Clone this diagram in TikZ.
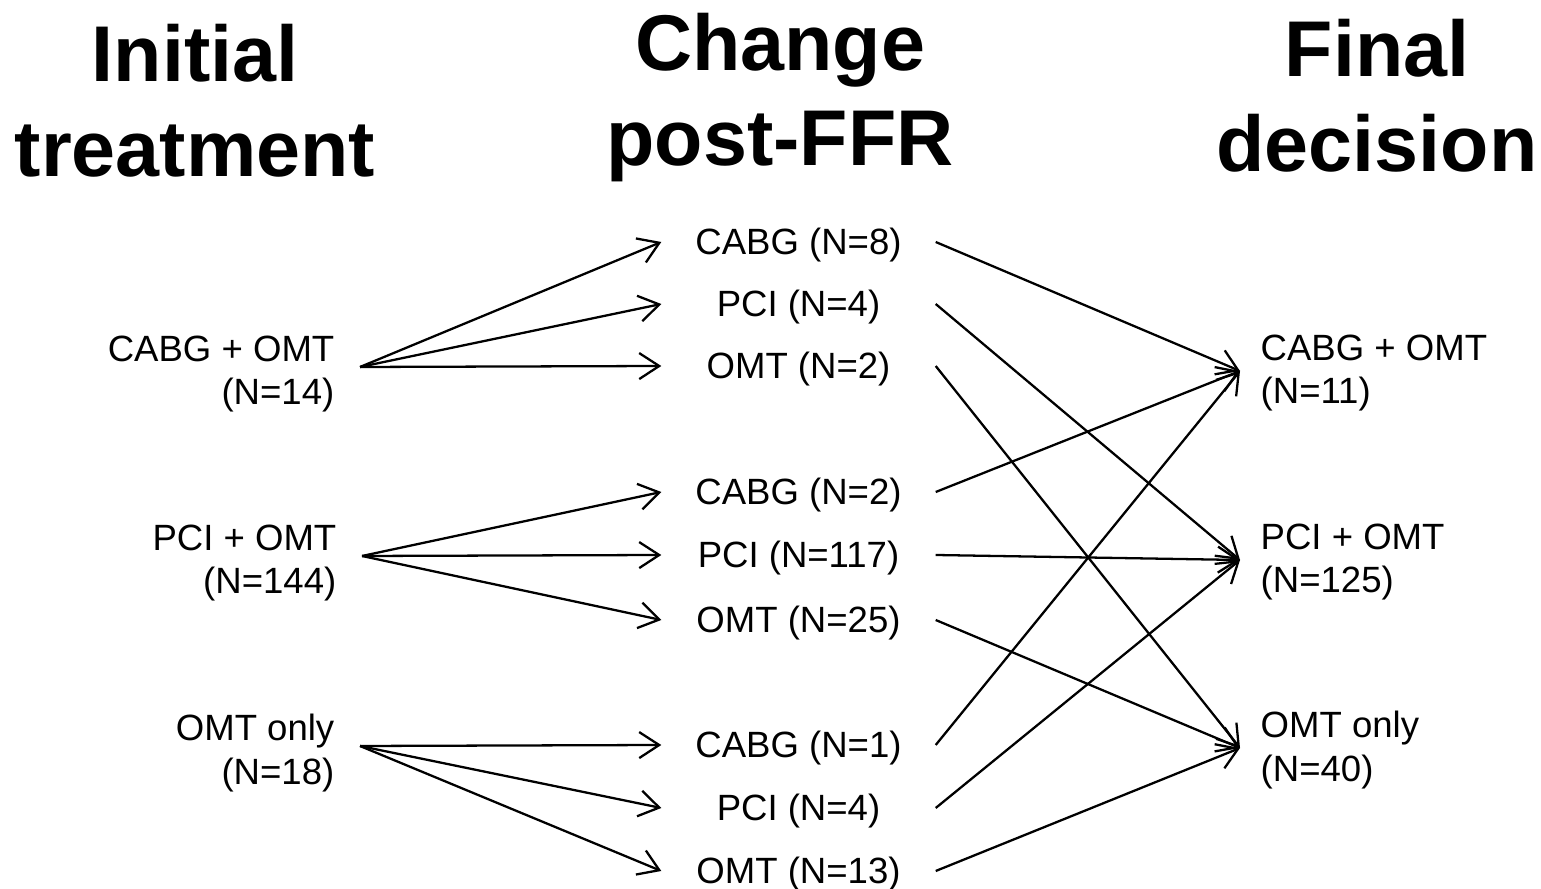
\documentclass[tikz,border=0pt]{standalone}
\usepackage{fontspec}
\setmainfont{Liberation Sans}
\usetikzlibrary{arrows.meta}
\begin{document}
\begin{tikzpicture}[
    head/.style={font=\fontsize{22.5}{27}\selectfont\bfseries, align=center, inner sep=0},
    lbox/.style={font=\fontsize{10.4}{12.5}\selectfont, align=right, anchor=east, inner xsep=0.25cm},
    mbox/.style={font=\fontsize{10.4}{12.5}\selectfont, minimum width=2.73cm, inner sep=0,
                 text height=3.1mm, text depth=0.5mm},
    rbox/.style={font=\fontsize{10.4}{12.5}\selectfont, align=left, anchor=west, inner xsep=0.2cm},
    arr/.style={line width=0.65pt, -{Straight Barb[length=2mm,width=2.6mm]}}
  ]
  \useasboundingbox (0,0) rectangle (15.41,8.89);
  % headers
  \node[head] (h1) at (1.95,7.88) {Initial\\treatment};
  \node[head] (h2) at (7.80,7.91) {Change\\post-FFR};
  \node[head] (h3) at (13.77,7.93) {Final\\decision};
  % initial treatment
  \node[lbox] (l1) at (3.60,5.15) {CABG + OMT\\(N=14)};
  \node[lbox] (l2) at (3.62,3.26) {PCI + OMT\\(N=144)};
  \node[lbox] (l3) at (3.60,1.36) {OMT only\\(N=18)};
  % change post-FFR
  \node[mbox] (m1) at (7.985,6.47) {CABG (N=8)};
  \node[mbox] (m2) at (7.985,5.85) {PCI (N=4)};
  \node[mbox] (m3) at (7.985,5.23) {OMT (N=2)};
  \node[mbox] (m4) at (7.985,3.97) {CABG (N=2)};
  \node[mbox] (m5) at (7.985,3.34) {PCI (N=117)};
  \node[mbox] (m6) at (7.985,2.69) {OMT (N=25)};
  \node[mbox] (m7) at (7.985,1.44) {CABG (N=1)};
  \node[mbox] (m8) at (7.985,0.81) {PCI (N=4)};
  \node[mbox] (m9) at (7.985,0.18) {OMT (N=13)};
  % final decision
  \node[rbox] (r1) at (12.40,5.16) {CABG + OMT\\(N=11)};
  \node[rbox] (r2) at (12.40,3.27) {PCI + OMT\\(N=125)};
  \node[rbox] (r3) at (12.40,1.39) {OMT only\\(N=40)};
  % initial -> change
  \draw[arr] ([yshift=0.07cm]l1.east) -- (m1.west);
  \draw[arr] ([yshift=0.07cm]l1.east) -- (m2.west);
  \draw[arr] ([yshift=0.07cm]l1.east) -- (m3.west);
  \draw[arr] ([yshift=0.07cm]l2.east) -- (m4.west);
  \draw[arr] ([yshift=0.07cm]l2.east) -- (m5.west);
  \draw[arr] ([yshift=0.07cm]l2.east) -- (m6.west);
  \draw[arr] ([yshift=0.07cm]l3.east) -- (m7.west);
  \draw[arr] ([yshift=0.07cm]l3.east) -- (m8.west);
  \draw[arr] ([yshift=0.07cm]l3.east) -- (m9.west);
  % change -> final
  \draw[arr] (m1.east) -- ([yshift=0.02cm]r1.west);
  \draw[arr] (m2.east) -- ([yshift=0.02cm]r2.west);
  \draw[arr] (m3.east) -- ([yshift=0.02cm]r3.west);
  \draw[arr] (m4.east) -- ([yshift=0.02cm]r1.west);
  \draw[arr] (m5.east) -- ([yshift=0.02cm]r2.west);
  \draw[arr] (m6.east) -- ([yshift=0.02cm]r3.west);
  \draw[arr] (m7.east) -- ([yshift=0.02cm]r1.west);
  \draw[arr] (m8.east) -- ([yshift=0.02cm]r2.west);
  \draw[arr] (m9.east) -- ([yshift=0.02cm]r3.west);
\end{tikzpicture}
\end{document}
